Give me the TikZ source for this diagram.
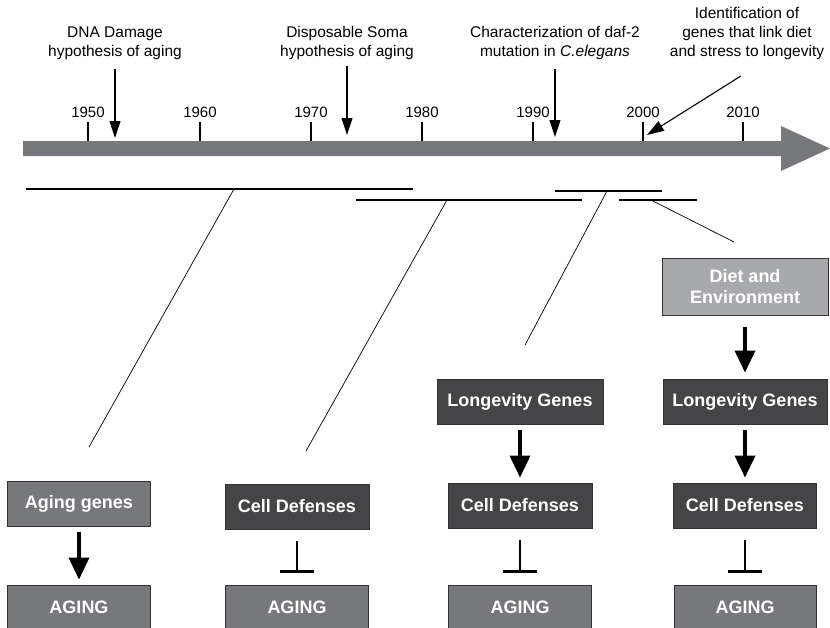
\documentclass[tikz,border=0pt]{standalone}
\usepackage{fontspec}
\setmainfont{Liberation Sans}
\usetikzlibrary{arrows.meta,calc}

\definecolor{midgray}{HTML}{77787B}
\definecolor{darkbox}{HTML}{454547}
\definecolor{lightbox}{HTML}{A7A9AC}

\tikzset{
  box/.style={draw=black!80, line width=0.8pt, text=white, align=center,
    font=\bfseries\fontsize{18}{21}\selectfont, minimum height=45pt, inner sep=0pt},
  event/.style={align=center, font=\fontsize{15.5}{19}\selectfont, inner sep=0pt},
  evarrow/.style={line width=1.1pt, -{Triangle[width=11pt,length=17pt]}, shorten <=9pt},
  promote/.style={line width=3.5pt, -{Triangle[width=20pt,length=22pt]}, shorten <=6pt, shorten >=5pt},
  inhibit/.style={line width=2pt, -{Bar[width=34pt,line width=2.5pt]}, shorten <=12pt, shorten >=12pt},
  period/.style={line width=2.5pt},
  link/.style={line width=0.7pt}
}

\begin{document}
\begin{tikzpicture}[x=1pt, y=-1pt]
    \clip (0,0) rectangle (830,627);

    % Time axis
    \fill[midgray] (23,141) -- (781,141) -- (781,126) -- (830,148.5)
        -- (781,171) -- (781,156) -- (23,156) -- cycle;
    \foreach \yr/\x in {1950/88, 1960/200, 1970/311, 1980/422, 1990/533, 2000/643, 2010/743}{
        \draw[line width=1.1pt] (\x,122) -- (\x,141);
        \node[font=\fontsize{15}{18}\selectfont] (y\yr) at (\x,112) {\yr};
    }

    % Events
    \node[event] (dna) at (115,43) {DNA Damage\\hypothesis of aging};
    \node[event] (soma) at (347,43) {Disposable Soma\\hypothesis of aging};
    \node[event] (daf) at (555,43) {Characterization of daf-2\\mutation in \textit{C.elegans}};
    \node[event] (ident) at (747,33.5) {Identification of\\genes that link diet\\and stress to longevity};
    \coordinate (t1) at (115,138);
    \coordinate (t2) at (347,135);
    \coordinate (t3) at (555,137);
    \coordinate (t4) at (647,135);
    \draw[evarrow] (dna) -- (t1);
    \draw[evarrow, shorten <=6pt] (soma) -- (t2);
    \draw[evarrow] (daf) -- (t3);
    \draw[evarrow, shorten <=0pt] ($(ident.south)+(-6,16)$) -- (t4);

    % Periods under the axis
    \draw[period] (26,189) -- (413,189);
    \draw[period] (356,200) -- (582,200);
    \draw[period] (555,191) -- (662,191);
    \draw[period] (619,200) -- (697,200);
    \coordinate (p1) at (234,189);
    \coordinate (p2) at (447,200);
    \coordinate (p3) at (607,191);
    \coordinate (p4) at (651,200);
    \coordinate (e1) at (89,447);
    \coordinate (e2) at (306,451);
    \coordinate (e3) at (525,345);
    \coordinate (e4) at (734,242);
    \draw[link] (p1) -- (e1);
    \draw[link] (p2) -- (e2);
    \draw[link] (p3) -- (e3);
    \draw[link] (p4) -- (e4);

    % Column 1
    \node[box, fill=midgray, minimum width=143pt] (agegenes) at (79,503.5) {Aging genes};
    \node[box, fill=midgray, minimum width=143pt] (aging1) at (79,607.5) {AGING};
    \draw[promote] (agegenes) -- (aging1);

    % Column 2
    \node[box, fill=darkbox, minimum width=144pt] (celldef1) at (297,506.5) {Cell Defenses};
    \node[box, fill=midgray, minimum width=143pt] (aging2) at (297,607.5) {AGING};
    \draw[inhibit] (celldef1) -- (aging2);

    % Column 3
    \node[box, fill=darkbox, minimum width=166pt] (longev1) at (520,401.5) {Longevity Genes};
    \node[box, fill=darkbox, minimum width=144pt] (celldef2) at (520,505.5) {Cell Defenses};
    \node[box, fill=midgray, minimum width=143pt] (aging3) at (520,607.5) {AGING};
    \draw[promote] (longev1) -- (celldef2);
    \draw[inhibit] (celldef2) -- (aging3);

    % Column 4
    \node[box, fill=lightbox, minimum width=166pt, minimum height=57pt] (diet) at (745,286.5) {Diet and\\Environment};
    \node[box, fill=darkbox, minimum width=164pt] (longev2) at (745,401.5) {Longevity Genes};
    \node[box, fill=darkbox, minimum width=143pt] (celldef3) at (745,505.5) {Cell Defenses};
    \node[box, fill=midgray, minimum width=142pt] (aging4) at (745,607.5) {AGING};
    \draw[promote, shorten <=12pt, shorten >=6pt] (diet) -- (longev2);
    \draw[promote] (longev2) -- (celldef3);
    \draw[inhibit] (celldef3) -- (aging4);
\end{tikzpicture}
\end{document}
